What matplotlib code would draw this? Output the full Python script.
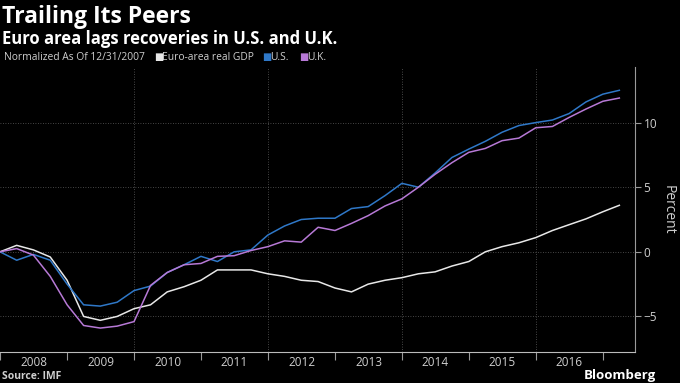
import matplotlib
matplotlib.use("Agg")
import matplotlib.pyplot as plt
import pandas as pd

# quarterly, normalized to 0 at 12/31/2007
quarters = pd.date_range("2007-12-31", periods=38, freq="QE")
euro = [0, 0.5, 0.15, -0.4, -2.2, -5.0, -5.3, -5.0, -4.4, -4.1, -3.1, -2.7, -2.2, -1.4,
        -1.4, -1.4, -1.7, -1.9, -2.2, -2.3, -2.8, -3.1, -2.5, -2.2, -2.0, -1.7, -1.55,
        -1.1, -0.75, 0.0, 0.4, 0.7, 1.1, 1.65, 2.1, 2.55, 3.1, 3.6]
us = [0, -0.65, -0.2, -0.65, -2.5, -4.1, -4.2, -3.9, -3.0, -2.65, -1.6, -1.0, -0.35, -0.75,
      0.0, 0.15, 1.3, 2.0, 2.5, 2.6, 2.6, 3.35, 3.5, 4.35, 5.3, 5.0, 6.1, 7.3, 7.95, 8.55,
      9.25, 9.77, 10.0, 10.2, 10.7, 11.6, 12.2, 12.5]
uk = [0, 0.25, -0.25, -1.9, -4.1, -5.7, -5.9, -5.75, -5.4, -2.6, -1.6, -1.0, -0.9, -0.35,
      -0.3, 0.1, 0.4, 0.85, 0.75, 1.9, 1.65, 2.2, 2.8, 3.55, 4.1, 5.0, 6.0, 6.9, 7.7, 8.0,
      8.6, 8.8, 9.6, 9.7, 10.4, 11.05, 11.65, 11.9]
years = list(range(2008, 2017))
yticks = [-5, 0, 5, 10]

WHITE = "#e8e8e8"
BLUE = "#2f78c8"
PURPLE = "#b779d6"
GRID = "#5e5e5e"
TXT = "#cfcfcf"

plt.rcParams["font.family"] = ["Open Sans", "DejaVu Sans"]

fig = plt.figure(figsize=(6.8, 3.83), dpi=100, facecolor="black")
ax = fig.add_axes([0.0, 0.081, 0.934, 0.744], facecolor="black")

ax.plot(quarters, euro, color=WHITE, lw=1.1)
ax.plot(quarters, us, color=BLUE, lw=1.1)
ax.plot(quarters, uk, color=PURPLE, lw=1.1)

ax.set_xlim(pd.Timestamp("2007-12-31"), pd.Timestamp("2017-06-25"))
ax.set_ylim(-7.75, 14.3)

# year boundaries as ticks, labels centred in each year
bounds = [pd.Timestamp(f"{y}-01-01") for y in years + [2017]]
mids = [pd.Timestamp(f"{y}-07-02") for y in years]
ax.set_xticks(bounds)
ax.set_xticklabels([])
ax.set_xticks(mids, minor=True)
ax.set_xticklabels([str(y) for y in years], minor=True)
ax.tick_params(axis="x", which="major", length=6, color="#9a9a9a", direction="out")
ax.tick_params(axis="x", which="minor", length=0, labelsize=8.5, labelcolor=TXT, pad=3)

for y in [2010, 2012, 2014, 2016]:
    ax.axvline(pd.Timestamp(f"{y}-01-01"), color=GRID, lw=0.6, ls=(0, (1, 2)), zorder=0)

ax.yaxis.tick_right()
ax.yaxis.set_label_position("right")
ax.set_yticks(yticks)
ax.tick_params(axis="y", length=4, color="#9a9a9a", labelsize=8.5, labelcolor=TXT, pad=2)
for v in yticks:
    ax.axhline(v, color=GRID, lw=0.6, ls=(0, (1, 2)), zorder=0)
ax.set_ylabel("Percent", rotation=270, color=TXT, fontsize=10, labelpad=13)

for s in ["top", "left"]:
    ax.spines[s].set_visible(False)
ax.spines["bottom"].set_color("#bbbbbb")
ax.spines["right"].set_color("#9a9a9a")
ax.spines["bottom"].set_linewidth(0.8)
ax.spines["right"].set_linewidth(0.8)

fig.text(0.003, 0.94, "Trailing Its Peers", color="white", fontsize=16.5, fontweight="bold")
fig.text(0.003, 0.885, "Euro area lags recoveries in U.S. and U.K.", color="white",
         fontsize=12, fontweight="bold")

ly = 0.843
fig.text(0.006, ly, "Normalized As Of 12/31/2007", color=TXT, fontsize=7.4)
for x, c, lab in [(0.226, WHITE, "Euro-area real GDP"), (0.385, BLUE, "U.S."),
                  (0.440, PURPLE, "U.K.")]:
    fig.text(x, ly, "\u25a0", color=c, fontsize=7, family="DejaVu Sans")
    fig.text(x + 0.012, ly, lab, color=TXT, fontsize=7.4)

fig.text(0.003, 0.01, "Source: IMF", color=TXT, fontsize=7.5, fontweight="bold")
fig.text(0.965, 0.01, "Bloomberg", color="white", fontsize=9.5, fontweight="bold", ha="right")

fig.savefig("out.png", dpi=100, facecolor="black")
